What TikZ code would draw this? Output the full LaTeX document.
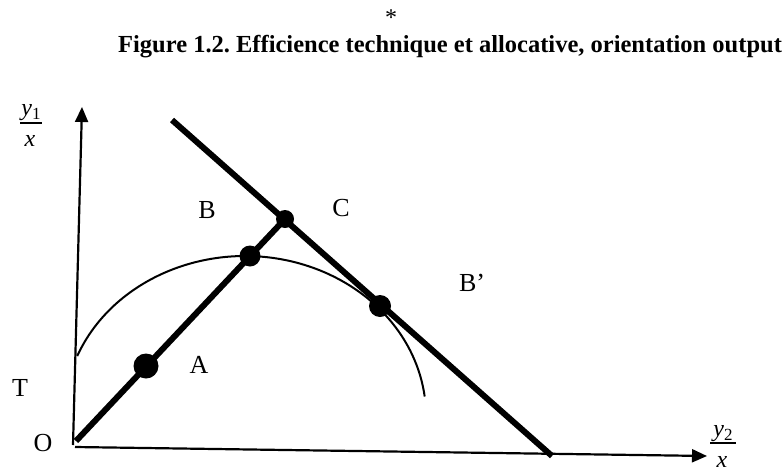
\documentclass[tikz,border=0pt]{standalone}
\usepackage{fontspec}
\setmainfont{Liberation Serif}
\usetikzlibrary{arrows.meta}
\frenchspacing
\tikzset{
  axis/.style={line width=2.2pt,-{Triangle[length=15pt,width=13pt]}},
  thickline/.style={line width=6pt},
  curveline/.style={line width=2pt},
  fracbar/.style={line width=2pt},
  dot/.style={circle,fill=black,inner sep=0pt,minimum size=#1},
  lbl/.style={font=\fontsize{26}{30}\selectfont,inner sep=0pt},
  frac/.style={font=\fontsize{24}{28}\selectfont\itshape,inner sep=0pt}
}
\newcommand{\subidx}[1]{\raisebox{-4pt}{\upshape\fontsize{17}{19}\selectfont #1}}
\begin{document}
\begin{tikzpicture}[x=1pt,y=-1pt]
\useasboundingbox (0,0) rectangle (783,471);
% title
\node[font=\fontsize{24}{26}\selectfont,inner sep=0pt,anchor=base] (star) at (391,25) {*};
\node[font=\fontsize{24.5}{28}\selectfont\bfseries,anchor=base west,inner sep=0pt] (title) at (118,52) {Figure 1.2. Efficience technique et allocative, orientation output};
% coordinates
\coordinate (Ybot) at (73,445);
\coordinate (Ytop) at (82,107);
\coordinate (Xl) at (75,447);
\coordinate (Xr) at (707,456);
\coordinate (O) at (76,441);
\coordinate (Cpt) at (285,219);
\coordinate (P1) at (172,120);
\coordinate (P2) at (552,456);
% axes
\draw[axis] (Ybot) -- (Ytop);
\draw[axis] (Xl) -- (Xr);
% curve (elliptic arc)
\draw[curveline] (77.2,356.1) arc[start angle=202,end angle=353,x radius=181,y radius=160];
% lines
\draw[thickline] (P1) -- (P2);
\draw[thickline] (O) -- (Cpt);
% dots
\node[dot=25pt] (dA) at (146,366) {};
\node[dot=21pt] (dM) at (250,256) {};
\node[dot=18pt] (dC) at (Cpt) {};
\node[dot=22pt] (dB) at (380,306) {};
% labels
\node[lbl] (lO) at (43,443) {O};
\node[lbl] (lT) at (20,388) {T};
\node[lbl] (lA) at (199,365) {A};
\node[lbl] (lB) at (207,210) {B};
\node[lbl] (lC) at (341,208) {C};
\node[lbl] (lBp) at (472,283) {B’};
% fraction labels
\node[frac,anchor=base] (y1n) at (31,115) {y\subidx{1}};
\draw[fracbar] (20,122.5) -- (42,122.5);
\node[frac,anchor=base] (y1d) at (30,146) {x};
\node[frac,anchor=base] (y2n) at (723,436) {y\subidx{2}};
\draw[fracbar] (710,443) -- (736,443);
\node[frac,anchor=base] (y2d) at (722,467) {x};
\end{tikzpicture}
\end{document}
